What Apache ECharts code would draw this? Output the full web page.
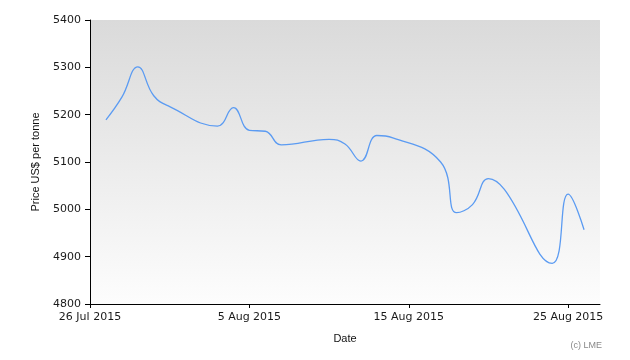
<!DOCTYPE html>
<html>
<head>
<meta charset="utf-8">
<script src="https://cdn.jsdelivr.net/npm/echarts@6/dist/echarts.min.js"></script>
<style>
html,body{margin:0;padding:0;background:#fff;}
#chart{width:630px;height:360px;}
</style>
</head>
<body>
<div id="chart"></div>
<script>
// ---- data ----
const dates = [
  '2015-07-27','2015-07-28','2015-07-29','2015-07-30','2015-07-31',
  '2015-08-03','2015-08-04','2015-08-05','2015-08-06','2015-08-07',
  '2015-08-10','2015-08-11','2015-08-12','2015-08-13','2015-08-14',
  '2015-08-17','2015-08-18','2015-08-19','2015-08-20','2015-08-21',
  '2015-08-24','2015-08-25','2015-08-26'
];
const prices = [
  5189, 5237, 5301, 5240, 5217,
  5176, 5215, 5167, 5165, 5136,
  5148, 5138, 5102, 5156, 5151,
  5100, 4993, 5010, 5065, 5042,
  4886, 5032, 4957
];
const axisStart = '2015-07-26';
const axisEnd = '2015-08-27';
const xTickDays = [0, 10, 20, 30];
const yTicks = [4800, 4900, 5000, 5100, 5200, 5300, 5400];
const monthNames = ['Jan','Feb','Mar','Apr','May','Jun','Jul','Aug','Sep','Oct','Nov','Dec'];

// ---- helpers ----
const DAY = 86400000;
function toMs(s){ const p = s.split('-').map(Number); return Date.UTC(p[0], p[1]-1, p[2]); }
const t0 = toMs(axisStart);
function dayOffset(s){ return Math.round((toMs(s) - t0) / DAY); }
function fmtDay(d){
  const dt = new Date(t0 + d * DAY);
  return dt.getUTCDate() + ' ' + monthNames[dt.getUTCMonth()] + ' ' + dt.getUTCFullYear();
}
const seriesData = dates.map((d, i) => [dayOffset(d), prices[i]]);

const chart = echarts.init(document.getElementById('chart'), null, {renderer: 'canvas'});
const labelFont = 'DejaVu Sans';
chart.setOption({
  animation: false,
  backgroundColor: '#ffffff',
  grid: {
    left: 90, right: 30, top: 20, bottom: 56,
    show: true,
    borderWidth: 0,
    backgroundColor: new echarts.graphic.LinearGradient(0, 0, 0, 1, [
      {offset: 0, color: '#dadada'},
      {offset: 1, color: '#fdfdfd'}
    ])
  },
  xAxis: {
    type: 'value',
    min: 0,
    max: dayOffset(axisEnd),
    interval: 10,
    name: 'Date',
    nameLocation: 'middle',
    nameGap: 29,
    nameTextStyle: {fontFamily: 'Liberation Sans', fontSize: 11, color: '#111'},
    axisLine: {show: true, lineStyle: {color: '#000', width: 1}},
    axisTick: {show: true, length: 4, lineStyle: {color: '#000'}, customValues: xTickDays},
    axisLabel: {
      customValues: xTickDays,
      formatter: v => fmtDay(v),
      fontFamily: labelFont, fontSize: 11, color: '#1a1a1a', margin: 8
    },
    splitLine: {show: false}
  },
  yAxis: {
    type: 'value',
    min: yTicks[0],
    max: yTicks[yTicks.length - 1],
    interval: 100,
    name: 'Price US$ per tonne',
    nameLocation: 'middle',
    nameRotate: 90,
    nameGap: 49,
    nameTextStyle: {fontFamily: 'Liberation Sans', fontSize: 11, color: '#111'},
    axisLine: {show: true, lineStyle: {color: '#000', width: 1}},
    axisTick: {show: true, length: 5, lineStyle: {color: '#000'}},
    axisLabel: {formatter: v => String(v), fontFamily: labelFont, fontSize: 11, color: '#1a1a1a', margin: 9},
    splitLine: {show: false}
  },
  series: [{
    type: 'line',
    data: seriesData,
    smooth: 0.45,
    showSymbol: false,
    symbol: 'none',
    lineStyle: {color: '#5b9bf2', width: 1.3}
  }],
  graphic: [{
    type: 'text',
    right: 28, top: 341,
    style: {text: '(c) LME', fontFamily: 'Liberation Sans', fontSize: 9, fill: '#888'}
  }]
});
</script>
</body>
</html>
